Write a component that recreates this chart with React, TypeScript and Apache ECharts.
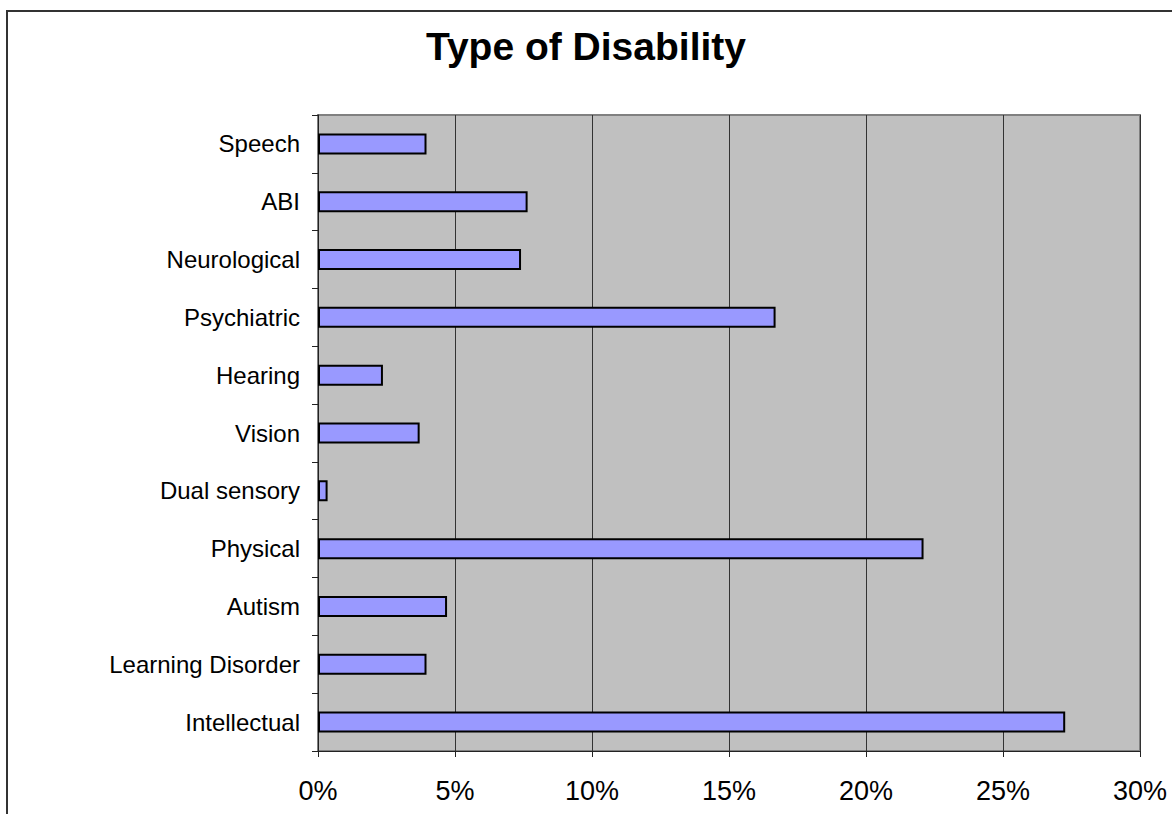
import React, { useEffect, useRef } from "react";
import * as echarts from "echarts";

// Categories listed bottom-to-top (ECharts category axis order)
const categories = [
  "Intellectual",
  "Learning Disorder",
  "Autism",
  "Physical",
  "Dual sensory",
  "Vision",
  "Hearing",
  "Psychiatric",
  "Neurological",
  "ABI",
  "Speech",
];

// Share of clients by disability type, in percent
const shares = [27.27, 3.96, 4.71, 22.1, 0.35, 3.71, 2.37, 16.7, 7.41, 7.65, 3.96];

const title = "Type of Disability";
const FONT = "'Liberation Sans', Arial, Helvetica, sans-serif";

export default function App() {
  const ref = useRef<HTMLDivElement>(null);

  useEffect(() => {
    if (!ref.current) return;
    const chart = echarts.init(ref.current, null, { renderer: "svg" });
    chart.setOption({
      animation: false,
      backgroundColor: "#ffffff",
      title: {
        text: title,
        left: "center",
        top: 22,
        textStyle: {
          fontFamily: FONT,
          fontSize: 39,
          fontWeight: "bold",
          color: "#000",
        },
      },
      graphic: [
        {
          type: "rect",
          shape: { x: 7, y: 11, width: 1200, height: 900 },
          style: { fill: "none", stroke: "#333", lineWidth: 2 },
          silent: true,
        },
      ],
      grid: {
        left: 318,
        top: 115,
        width: 822,
        height: 636,
        show: true,
        backgroundColor: "#c0c0c0",
        borderColor: "#808080",
        borderWidth: 2,
      },
      xAxis: {
        type: "value",
        min: 0,
        max: 30,
        interval: 5,
        axisLine: { show: true, lineStyle: { color: "#222", width: 1 } },
        axisTick: { show: true, length: 6, lineStyle: { color: "#222" } },
        splitLine: { show: true, lineStyle: { color: "#333", width: 1 } },
        axisLabel: {
          formatter: "{value}%",
          fontFamily: FONT,
          fontSize: 27,
          color: "#000",
          margin: 26,
        },
      },
      yAxis: {
        type: "category",
        data: categories,
        axisLine: { show: true, onZero: false, lineStyle: { color: "#222", width: 1 } },
        axisTick: { show: true, length: 6, lineStyle: { color: "#222" } },
        splitLine: { show: false },
        axisLabel: {
          fontFamily: FONT,
          fontSize: 24,
          color: "#000",
          margin: 18,
        },
      },
      series: [
        {
          type: "bar",
          data: shares,
          barWidth: 21,
          itemStyle: {
            color: "#9999ff",
            borderColor: "#000",
            borderWidth: 2,
          },
        },
      ],
    });
    return () => chart.dispose();
  }, []);

  return (
    <div
      ref={ref}
      style={{ position: "fixed", left: 0, top: 0, width: 1172, height: 814 }}
    />
  );
}
